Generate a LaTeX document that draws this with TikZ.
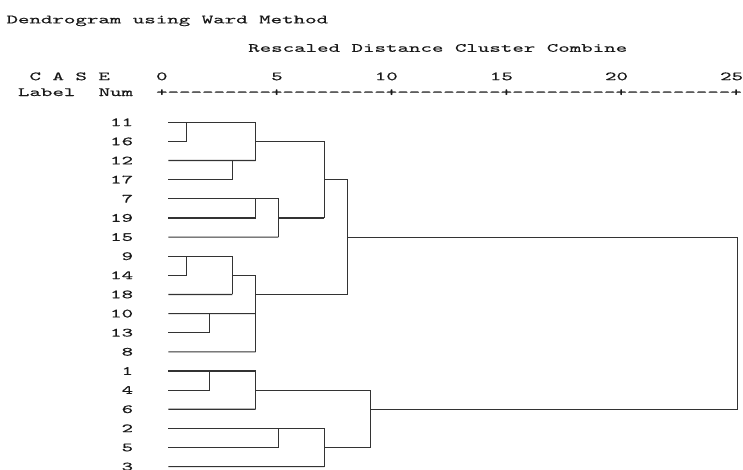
\documentclass[tikz,border=0pt]{standalone}
\usepackage{fontspec}
% wide typewriter face for the listing-style text
\newfontfamily\spss[FakeStretch=1.75,FakeBold=0.4,Ligatures=TeXOff]{lmmono10-regular.otf}
\begin{document}
\begin{tikzpicture}[x=1pt,y=-1pt,
  txt/.style={inner sep=0pt, outer sep=0pt, anchor=base west,
    font=\spss\fontsize{12.5}{14}\selectfont, text=black!90},
  leaf/.style={txt, anchor=base east},
  wire/.style={draw=black!80, line width=1.15pt},
]
\useasboundingbox[fill=white] (0,0) rectangle (743,469);

% header lines (monospaced columns, 11.51 units per character)
\node[txt] (title) at (6.5,23.3) {Dendrogram using Ward Method};
\node[txt] (scale) at (248.2,51.8) {Rescaled Distance Cluster Combine};
\node[txt] (case)  at (29.5,80.2) {C A S E};
\node[txt] (lab)   at (18.0,96.0) {Label};
\node[txt] (num)   at (98.6,96.0) {Num};
\node[txt] (t0)  at (156.1,80.2) {0};
\node[txt] (t5)  at (271.2,80.2) {5};
\node[txt] (t10) at (374.8,80.2) {10};
\node[txt] (t15) at (489.9,80.2) {15};
\node[txt] (t20) at (605.0,80.2) {20};
\node[txt] (t25) at (720.1,80.2) {25};
\node[txt] (axis) at (156.1,96.0) {+---------+---------+---------+---------+---------+};

% case numbers and the start of each leaf line
\foreach \lab/\i in {11/0,16/1,12/2,17/3,7/4,19/5,15/6,9/7,14/8,18/9,
                     10/10,13/11,8/12,1/13,4/14,6/15,2/16,5/17,3/18} {
  \node[leaf] (n\lab) at (133.1,{122.3+19.13*\i+3.8}) {\lab};
  \coordinate (s\lab) at (168.3,{122.3+19.13*\i});
}

% merge points
\coordinate (k1)  at (186.3,122.3);
\coordinate (k2)  at (232.3,160.56);
\coordinate (k3)  at (255.7,160.56);
\coordinate (m3)  at (255.7,141.43);
\coordinate (k4)  at (255.7,198.82);
\coordinate (k5)  at (278.3,237.08);
\coordinate (m5)  at (278.3,217.95);
\coordinate (k6)  at (324.3,217.95);
\coordinate (m6)  at (324.3,179.69);
\coordinate (k7)  at (186.3,256.21);
\coordinate (k8)  at (232.3,294.47);
\coordinate (m8)  at (232.3,275.34);
\coordinate (kb)  at (209.3,313.6);
\coordinate (kc)  at (255.7,313.6);
\coordinate (kd)  at (255.7,351.86);
\coordinate (m9)  at (255.7,294.47);
\coordinate (k9)  at (347.7,294.47);
\coordinate (mG)  at (347.7,237.08);
\coordinate (ke)  at (209.3,370.99);
\coordinate (kf)  at (255.7,409.25);
\coordinate (m14) at (255.7,390.12);
\coordinate (kg)  at (278.3,428.38);
\coordinate (ki)  at (324.3,466.64);
\coordinate (m17) at (324.3,447.51);
\coordinate (kh)  at (370.3,447.51);
\coordinate (mH)  at (370.3,409.25);
\coordinate (kz)  at (737.7,409.25);

% first cluster: 11 16 12 17 7 19 15
\draw[wire] (s16) -| (k1);
\draw[wire] (s17) -| (k2);
\draw[wire] (s11) -| (k3);
\draw[wire] (s12) -- (k3);
\draw[wire] (m3) -| (k6);
\draw[wire] (s19) -| (k4);
\draw[wire] (s7) -| (k5);
\draw[wire] (s15) -- (k5);
\draw[wire] (m5) -- (k6);
\draw[wire] (m6) -| (k9);

% second cluster: 9 14 18 10 13 8
\draw[wire] (s14) -| (k7);
\draw[wire] (s9) -| (k8);
\draw[wire] (s18) -- (k8);
\draw[wire] (s13) -| (kb);
\draw[wire] (m8) -| (kd);
\draw[wire] (s10) -- (kc);
\draw[wire] (s8) -- (kd);
\draw[wire] (m9) -- (k9);

% third cluster: 1 4 6 2 5 3
\draw[wire] (s4) -| (ke);
\draw[wire] (s1) -| (kf);
\draw[wire] (s6) -- (kf);
\draw[wire] (m14) -| (kh);
\draw[wire] (s5) -| (kg);
\draw[wire] (s2) -| (ki);
\draw[wire] (s3) -- (ki);
\draw[wire] (m17) -- (kh);
\draw[wire] (mH) -- (kz);

% final merge
\draw[wire] (mG) -| (kz);
\end{tikzpicture}
\end{document}
